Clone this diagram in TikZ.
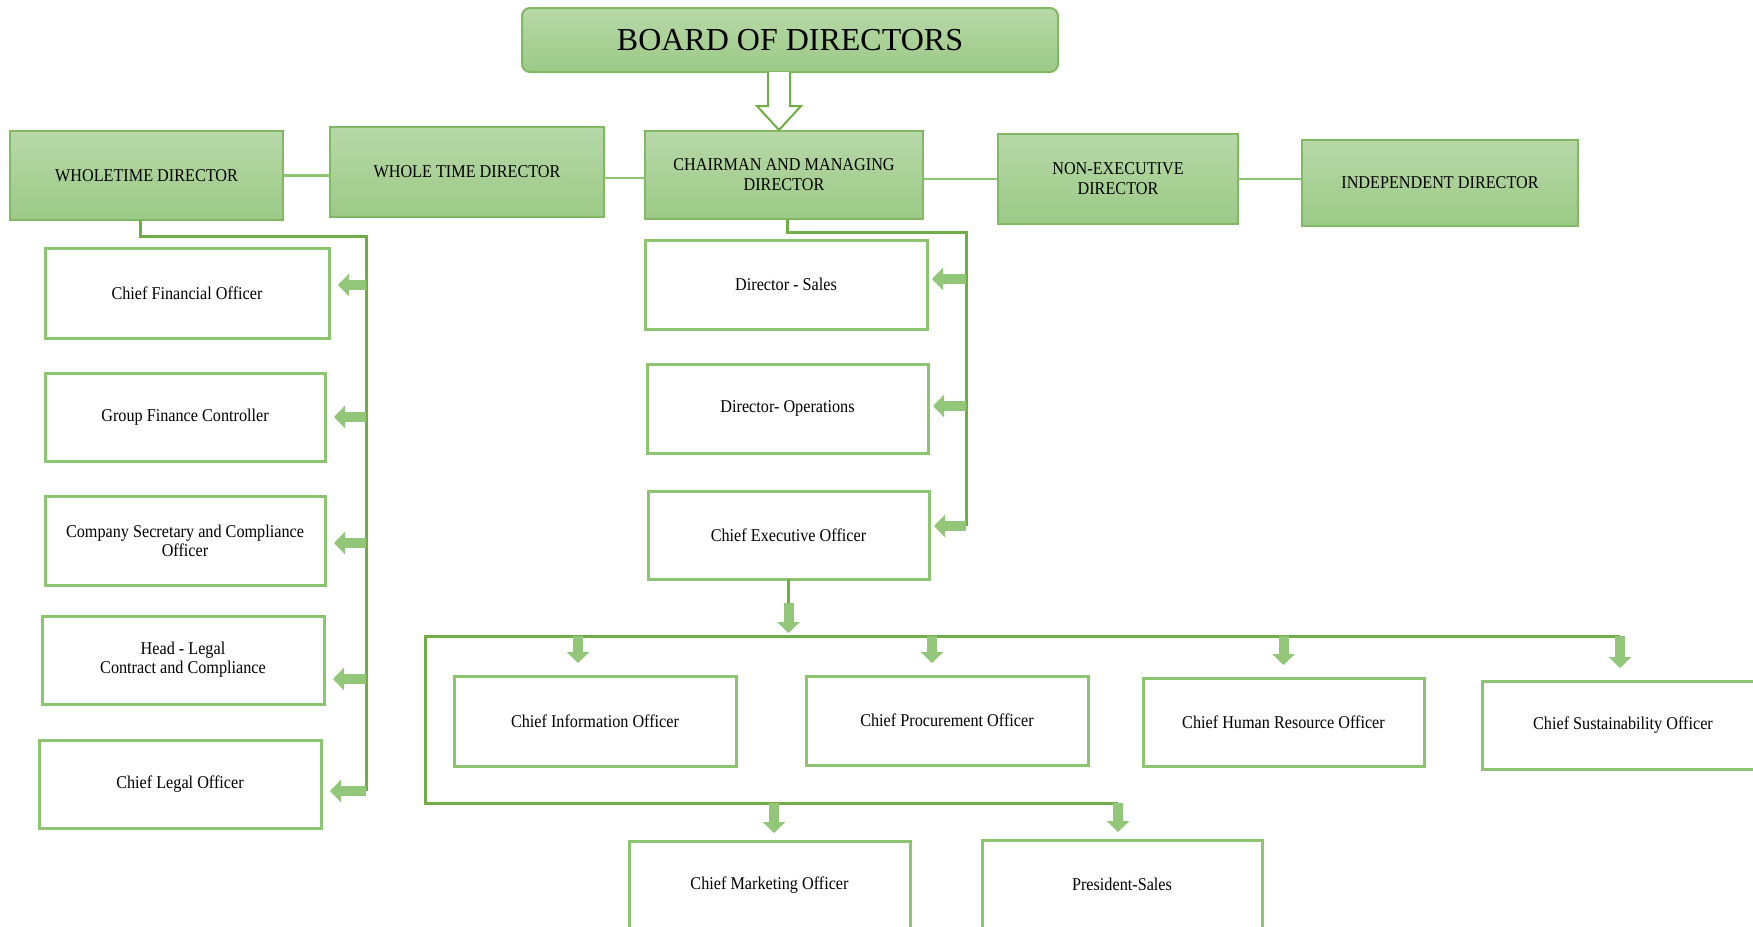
\documentclass[tikz,border=0pt]{standalone}
\usepackage{fontspec}
\setmainfont{Liberation Serif}
\newfontfamily\cnd[FakeStretch=0.9]{Liberation Serif}
\usetikzlibrary{arrows.meta}
\definecolor{gline}{RGB}{112,173,71}
\definecolor{gbox}{RGB}{141,196,112}
\definecolor{gtop}{RGB}{183,216,168}
\definecolor{gbot}{RGB}{156,202,134}
\definecolor{garrow}{RGB}{146,198,121}
\definecolor{gedge}{RGB}{128,184,100}
\begin{document}
\begin{tikzpicture}[x=0.5pt,y=-0.5pt,
  wbox/.style={draw=gbox, line width=1.5pt, fill=white, inner sep=1pt, outer sep=0pt, align=center, font=\cnd\fontsize{9pt}{9.6pt}\selectfont},
  gbx/.style={draw=gedge, line width=1pt, top color=gtop, bottom color=gbot, inner sep=1pt, outer sep=0pt, align=center, font=\cnd\fontsize{9pt}{10pt}\selectfont},
  bus/.style={draw=gline, line width=1.5pt},
  link/.style={draw=gbox, line width=1.2pt},
  barrow/.style={draw=garrow, line width=5pt, -{Triangle[width=11pt,length=5.5pt]}},
]
\useasboundingbox (0,0) rectangle (1753,927);
\clip (0,0) rectangle (1753,927);
\fill[white] (0,0) rectangle (1753,927);

% board
\node[gbx, rounded corners=4pt, minimum width=268pt, minimum height=32pt, font=\fontsize{16pt}{18pt}\selectfont] (board) at (790,40) {BOARD OF DIRECTORS};

% top row
\node[gbx, minimum width=136.5pt, minimum height=44.5pt] (wtd1) at (146.5,175.5) {WHOLETIME DIRECTOR};
\node[gbx, minimum width=137pt, minimum height=45pt] (wtd2) at (467,172) {WHOLE TIME DIRECTOR};
\node[gbx, minimum width=139pt, minimum height=44pt] (cmd) at (784,175) {CHAIRMAN AND MANAGING\\DIRECTOR};
\node[gbx, minimum width=120pt, minimum height=45pt] (ned) at (1118,179) {NON-EXECUTIVE\\DIRECTOR};
\node[gbx, minimum width=138pt, minimum height=43pt] (ind) at (1440,183) {INDEPENDENT DIRECTOR};

% hollow arrow board -> cmd
\draw[draw=gline, line width=1pt, fill=white] ([xshift=-5.5pt]board.south) ++(-11,0) -- ++(0,34) -- ++(-11,0) -- ++(22,24) -- ++(22,-24) -- ++(-11,0) -- ++(0,-34);

% top row links
\draw[link] (wtd1.east) -- (wtd1.east -| wtd2.west);
\draw[link] ([yshift=-1.5pt]cmd.west) -- ([yshift=-1.5pt]cmd.west -| wtd2.east);
\draw[link] (ned.west) -- (ned.west -| cmd.east);
\draw[link] (ned.east) -- (ned.east -| ind.west);

% left column
\node[wbox, minimum width=142pt, minimum height=45pt] (cfo) at (187,293) {Chief Financial Officer};
\node[wbox, minimum width=140pt, minimum height=44pt] (gfc) at (185,417) {Group Finance Controller};
\node[wbox, minimum width=140pt, minimum height=44.5pt] (cs) at (185,540.5) {Company Secretary and Compliance\\Officer};
\node[wbox, minimum width=141pt, minimum height=44pt] (hl) at (183,660) {Head - Legal\\Contract and Compliance};
\node[wbox, minimum width=141pt, minimum height=44pt] (clo) at (180,784) {Chief Legal Officer};

\coordinate (lbtop) at (366,236);
\coordinate (lbbot) at (366,791);
\draw[bus] ([xshift=-3.25pt]wtd1.south) |- (lbtop) -- (lbbot);
\path ([yshift=4pt]cfo.east) coordinate (e1);
\path (gfc.east) coordinate (e2);
\path ([yshift=-1.25pt]cs.east) coordinate (e3);
\path ([yshift=-9.5pt]hl.east) coordinate (e4);
\path ([yshift=-3.5pt]clo.east) coordinate (e5);
\foreach \e in {e1,e2,e3,e4,e5}{
  \draw[barrow, shorten >=4.5pt] (lbtop |- \e) -- (\e);
}

% middle column
\node[wbox, minimum width=141pt, minimum height=44.5pt] (ds) at (786,284.5) {Director - Sales};
\node[wbox, minimum width=140.5pt, minimum height=44.5pt] (dops) at (787.5,408.5) {Director- Operations};
\node[wbox, minimum width=140.5pt, minimum height=44pt] (ceo) at (788.5,535) {Chief Executive Officer};

\coordinate (mbtop) at (966,232);
\coordinate (mbbot) at (966,526);
\draw[bus] ([xshift=1.5pt]cmd.south) |- (mbtop) -- (mbbot);
\path ([yshift=2.75pt]ds.east) coordinate (m1);
\path ([yshift=1.25pt]dops.east) coordinate (m2);
\path ([yshift=4.5pt]ceo.east) coordinate (m3);
\foreach \e in {m1,m2,m3}{
  \draw[barrow, shorten >=2.5pt] (mbtop |- \e) -- (\e);
}

% CEO down
\coordinate (bl) at (425,636);
\coordinate (br) at (1620,636);
\coordinate (bb) at (425,803);
\coordinate (bbr) at (1118,803);
\draw[bus] (ceo.south) -- ++(0,24) coordinate (c1);
\draw[barrow, shorten >=1.5pt] (c1) -- (c1 |- bl);
\draw[bus] (br) -- (bl) -- (bb) -- (bbr);

% third row
\node[wbox, minimum width=141pt, minimum height=45pt] (cio) at (595,721) {Chief Information Officer};
\node[wbox, minimum width=141pt, minimum height=44.5pt] (cpo) at (947,720.5) {Chief Procurement Officer};
\node[wbox, minimum width=140.5pt, minimum height=44pt] (chro) at (1283.5,722) {Chief Human Resource Officer};
\node[wbox, minimum width=141pt, minimum height=44pt] (cso) at (1623,725) {Chief Sustainability Officer};

\path ([xshift=-8.5pt]cio.north) coordinate (d1);
\path ([xshift=-7.5pt]cpo.north) coordinate (d2);
\path (chro.north) coordinate (d3);
\path ([xshift=-1.5pt]cso.north) coordinate (d4);
\foreach \e in {d1,d2,d3,d4}{
  \draw[barrow, shorten >=6.5pt] (bl -| \e) -- (\e);
}

% bottom row
\node[wbox, minimum width=140.5pt, minimum height=44.5pt] (cmo) at (769.5,885.5) {Chief Marketing Officer};
\node[wbox, minimum width=140pt, minimum height=44.5pt] (ps) at (1122,884.5) {President-Sales};

\path ([xshift=2.25pt]cmo.north) coordinate (f1);
\path ([xshift=-2pt]ps.north) coordinate (f2);
\foreach \e in {f1,f2}{
  \draw[barrow, shorten >=4pt] (bb -| \e) -- (\e);
}
\end{tikzpicture}
\end{document}
